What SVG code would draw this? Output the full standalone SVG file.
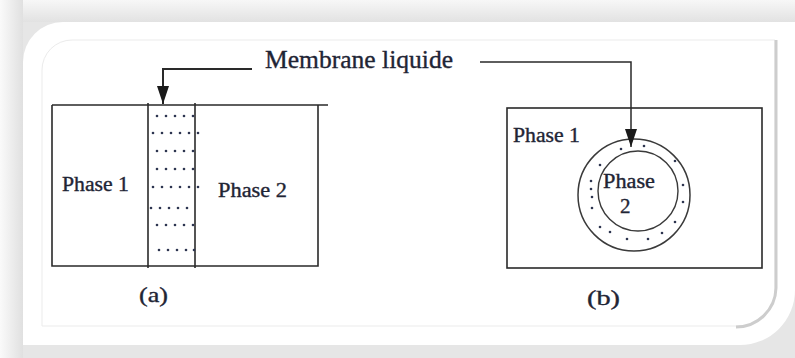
<svg xmlns="http://www.w3.org/2000/svg" width="795" height="358" viewBox="0 0 795 358">
<defs>
<linearGradient id="gtop" x1="0" y1="0" x2="0" y2="1"><stop offset="0" stop-color="#f7f7f7"/><stop offset="1" stop-color="#e2e2e2"/></linearGradient>
<linearGradient id="gleft" x1="0" y1="0" x2="1" y2="0"><stop offset="0" stop-color="#fafafa"/><stop offset="1" stop-color="#e0e0e0"/></linearGradient>
<marker id="ah" viewBox="0 0 18 12" refX="18" refY="6" markerWidth="18" markerHeight="12" markerUnits="userSpaceOnUse" orient="auto"><path d="M0,0 L18,6 L0,12 Z" fill="#1a1a1a"/></marker>
<style>
.t{font-family:"Liberation Serif","Times New Roman",serif;fill:#1f2535;stroke:#1f2535;stroke-width:0.35}
.ln{fill:none;stroke:#2a2a2a;stroke-width:1.6}
.dot{fill:#2d3550}
.conn{fill:none;stroke:#2a2a2a}
</style>
</defs>
<g id="background">
<rect width="795" height="358" fill="#e6e6e6"/>
<rect width="795" height="22" fill="url(#gtop)"/>
<rect width="23" height="358" fill="url(#gleft)"/>
<path d="M23,62 A40,40 0 0 1 63,22 H795 V290 A55,55 0 0 1 740,345 H23 Z" fill="#ffffff"/>
<path d="M42,70 A30,30 0 0 1 72,40 H775 V290 A36,36 0 0 1 739,326 H42 Z" fill="none" stroke="#ebebeb" stroke-width="1"/>
<path d="M776,40 V288 A40,40 0 0 1 736,327" fill="none" stroke="#cdcdcd" stroke-width="3"/>
</g>
<g id="diagram-a">
<path class="ln" d="M52,105 H328 M52,105 V266 H318 V105"/>
<line class="ln" x1="148" y1="103" x2="148" y2="268"/>
<line class="ln" x1="195" y1="103" x2="195" y2="268" stroke-width="2.2"/>
<g id="membrane-dots">
<circle class="dot" cx="157" cy="116" r="1.3"/><circle class="dot" cx="166" cy="116" r="1.3"/><circle class="dot" cx="175" cy="116" r="1.3"/><circle class="dot" cx="184" cy="116" r="1.3"/><circle class="dot" cx="193" cy="116" r="1.3"/>
<circle class="dot" cx="153" cy="133" r="1.3"/><circle class="dot" cx="162" cy="133" r="1.3"/><circle class="dot" cx="171" cy="133" r="1.3"/><circle class="dot" cx="180" cy="133" r="1.3"/><circle class="dot" cx="189" cy="133" r="1.3"/><circle class="dot" cx="198" cy="133" r="1.3"/>
<circle class="dot" cx="157" cy="151" r="1.3"/><circle class="dot" cx="166" cy="151" r="1.3"/><circle class="dot" cx="175" cy="151" r="1.3"/><circle class="dot" cx="184" cy="151" r="1.3"/><circle class="dot" cx="193" cy="151" r="1.3"/>
<circle class="dot" cx="157" cy="169" r="1.3"/><circle class="dot" cx="166" cy="169" r="1.3"/><circle class="dot" cx="175" cy="169" r="1.3"/><circle class="dot" cx="184" cy="169" r="1.3"/><circle class="dot" cx="193" cy="169" r="1.3"/>
<circle class="dot" cx="153" cy="187" r="1.3"/><circle class="dot" cx="162" cy="187" r="1.3"/><circle class="dot" cx="171" cy="187" r="1.3"/><circle class="dot" cx="180" cy="187" r="1.3"/><circle class="dot" cx="189" cy="187" r="1.3"/><circle class="dot" cx="198" cy="187" r="1.3"/>
<circle class="dot" cx="151" cy="208" r="1.3"/><circle class="dot" cx="160" cy="208" r="1.3"/><circle class="dot" cx="169" cy="208" r="1.3"/><circle class="dot" cx="178" cy="208" r="1.3"/><circle class="dot" cx="187" cy="208" r="1.3"/>
<circle class="dot" cx="157" cy="225" r="1.3"/><circle class="dot" cx="166" cy="225" r="1.3"/><circle class="dot" cx="175" cy="225" r="1.3"/><circle class="dot" cx="184" cy="225" r="1.3"/><circle class="dot" cx="193" cy="225" r="1.3"/>
<circle class="dot" cx="159" cy="250" r="1.3"/><circle class="dot" cx="168" cy="250" r="1.3"/><circle class="dot" cx="177" cy="250" r="1.3"/><circle class="dot" cx="186" cy="250" r="1.3"/><circle class="dot" cx="194" cy="250" r="1.3"/>
</g>
<text class="t" font-family="Liberation Serif, serif" x="62" y="191" font-size="20" textLength="67" lengthAdjust="spacingAndGlyphs">Phase 1</text>
<text class="t" font-family="Liberation Serif, serif" x="218" y="197" font-size="20" textLength="69" lengthAdjust="spacingAndGlyphs">Phase 2</text>
<text class="t" font-family="Liberation Serif, serif" x="139" y="302" font-size="21" textLength="29" lengthAdjust="spacingAndGlyphs">(a)</text>
</g>
<g id="diagram-b">
<rect class="ln" x="507" y="108" width="255" height="160"/>
<circle cx="634" cy="195" r="56" fill="none" stroke="#3a3a3a" stroke-width="1.5"/>
<circle cx="638" cy="191" r="40" fill="none" stroke="#3a3a3a" stroke-width="1.4"/>
<g id="ring-dots">
<circle class="dot" cx="621" cy="149" r="1.3"/><circle class="dot" cx="644" cy="146" r="1.3"/><circle class="dot" cx="600" cy="165" r="1.3"/><circle class="dot" cx="675" cy="161" r="1.3"/>
<circle class="dot" cx="591" cy="181" r="1.3"/><circle class="dot" cx="591" cy="189" r="1.3"/><circle class="dot" cx="592" cy="197" r="1.3"/><circle class="dot" cx="592" cy="208" r="1.3"/>
<circle class="dot" cx="683" cy="185" r="1.3"/><circle class="dot" cx="683" cy="202" r="1.3"/><circle class="dot" cx="675" cy="222" r="1.3"/>
<circle class="dot" cx="600" cy="227" r="1.3"/><circle class="dot" cx="610" cy="232" r="1.3"/><circle class="dot" cx="627" cy="239" r="1.3"/><circle class="dot" cx="648" cy="239" r="1.3"/><circle class="dot" cx="662" cy="233" r="1.3"/>
</g>
<text class="t" font-family="Liberation Serif, serif" x="513" y="142" font-size="20" textLength="67" lengthAdjust="spacingAndGlyphs">Phase 1</text>
<text class="t" font-family="Liberation Serif, serif" x="603" y="188" font-size="20" textLength="52" lengthAdjust="spacingAndGlyphs">Phase</text>
<text class="t" font-family="Liberation Serif, serif" x="620" y="213" font-size="21">2</text>
<text class="t" font-family="Liberation Serif, serif" x="587" y="305" font-size="21" textLength="33" lengthAdjust="spacingAndGlyphs">(b)</text>
</g>
<g id="label">
<text class="t" font-family="Liberation Serif, serif" x="265" y="68" font-size="25" textLength="188" lengthAdjust="spacingAndGlyphs">Membrane liquide</text>
</g>
<g id="connectors">
<path class="conn" d="M252,69 H163 V104" stroke-width="2" marker-end="url(#ah)"/>
<path class="conn" d="M480,62 H631 V147" stroke-width="1.5" marker-end="url(#ah)"/>
</g>
</svg>
